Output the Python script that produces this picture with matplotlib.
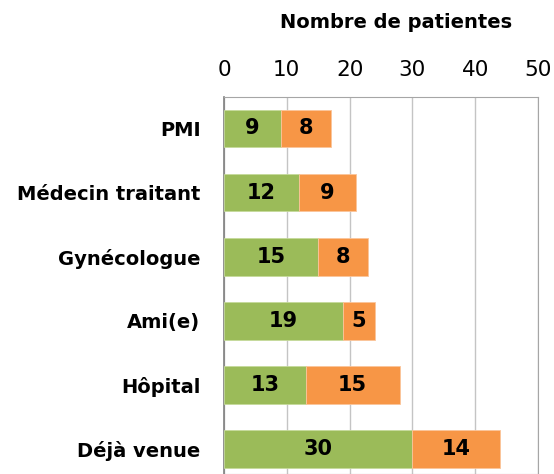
import matplotlib
matplotlib.use("Agg")
import matplotlib.pyplot as plt

categories = ["PMI", "Médecin traitant", "Gynécologue", "Ami(e)", "Hôpital", "Déjà venue"]
serie_verte = [9, 12, 15, 19, 13, 30]
serie_orange = [8, 9, 8, 5, 15, 14]
ticks = [0, 10, 20, 30, 40, 50]

VERT = "#9BBB59"
ORANGE = "#F79646"

plt.rcParams["font.family"] = ["DejaVu Sans"]

fig = plt.figure(figsize=(5.54, 4.74), dpi=100)
ax = fig.add_axes([224 / 554, 0.0, 314 / 554, (474 - 97) / 474])

y = list(range(len(categories)))
h = 0.59
ax.barh(y, serie_verte, height=h, color=VERT, edgecolor="#C5DA9B", linewidth=0.6, zorder=3)
ax.barh(y, serie_orange, left=serie_verte, height=h, color=ORANGE, edgecolor="#FBC59A",
        linewidth=0.6, zorder=3)

for yi, a, b in zip(y, serie_verte, serie_orange):
    ax.text(a / 2, yi, str(a), ha="center", va="center", fontsize=15, fontweight="bold", zorder=4)
    ax.text(a + b / 2, yi, str(b), ha="center", va="center", fontsize=15, fontweight="bold", zorder=4)

ax.set_xlim(0, 50)
ax.set_ylim(5.39, -0.49)
ax.set_xticks(ticks)
ax.xaxis.tick_top()
ax.tick_params(axis="x", length=0, pad=12, labelsize=15.5)
ax.set_yticks(y)
ax.set_yticklabels(categories, fontsize=14, fontweight="bold")
ax.tick_params(axis="y", length=0, pad=17)

ax.grid(axis="x", color="#C4C4C4", linewidth=1.0, zorder=0)
for s in ["top", "right", "bottom"]:
    ax.spines[s].set_color("#A6A6A6")
ax.spines["left"].set_color("#7F7F7F")
ax.spines["left"].set_linewidth(1.2)

fig.text(396 / 554, 1 - 22 / 474, "Nombre de patientes", ha="center", va="center",
         fontsize=14, fontweight="bold")

fig.savefig("out.png", dpi=100)
